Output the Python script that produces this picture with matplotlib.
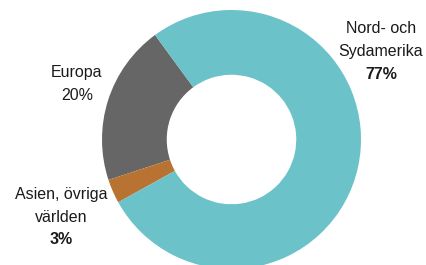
import matplotlib
matplotlib.use("Agg")
import matplotlib.pyplot as plt

# data
regions = ["Europa", "Asien, övriga\nvärlden", "Nord- och\nSydamerika"]
shares = [20, 3, 77]
colors = ["#666666", "#B87333", "#6CC2C9"]

W, H = 427, 265
fig = plt.figure(figsize=(W / 100, H / 100), dpi=100)
ax = fig.add_axes([0, 0, 1, 1])

cx, cy, r = 231.5, H - 139.5, 129.5
ax.pie(shares, colors=colors, startangle=126.2, counterclock=True,
       radius=r, center=(cx, cy), wedgeprops=dict(width=r * 0.5, linewidth=0))
ax.set_xlim(0, W)
ax.set_ylim(0, H)
ax.set_aspect("equal")
ax.axis("off")

font = dict(family=["Liberation Sans Narrow", "Liberation Sans", "DejaVu Sans"], fontsize=11.5,
            color="#1a1a1a", ha="center", va="center")

# labels: (name, x, y of first line, pct)
ax.text(381, H - 28, "Nord- och", **font)
ax.text(381, H - 51, "Sydamerika", **font)
ax.text(381, H - 74, f"{shares[2]}%", fontweight="bold", **font)

ax.text(77, H - 72, "Europa", **font)
ax.text(77, H - 95, f"{shares[0]}%", **font)

ax.text(61, H - 195, "Asien, övriga", **font)
ax.text(61, H - 218, "världen", **font)
ax.text(61, H - 240, f"{shares[1]}%", fontweight="bold", **font)

fig.savefig("out.png", dpi=100)
